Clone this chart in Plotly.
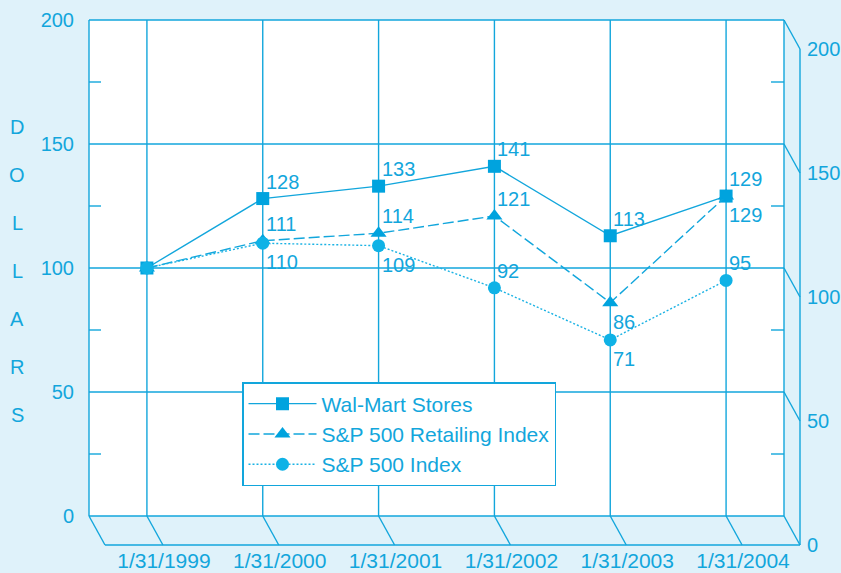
import plotly.graph_objects as go

# ---------------- data ----------------
dates = ["1/31/1999", "1/31/2000", "1/31/2001", "1/31/2002", "1/31/2003", "1/31/2004"]
walmart = [100, 128, 133, 141, 113, 129]
retailing = [100, 111, 114, 121, 86, 129]
sp500 = [100, 110, 109, 92, 71, 95]
series_names = ["Wal-Mart Stores", "S&P 500 Retailing Index", "S&P 500 Index"]
y_ticks = [0, 50, 100, 150, 200]
minor_ticks = [25, 75, 125, 175]
axis_letters = list("DOLLARS")

# label placement: +1 above the point, -1 below, 0 no label
walmart_pos = [0, 1, 1, 1, 1, 1]
retailing_pos = [0, 1, 1, 1, -1, -1]
sp500_pos = [0, -1, -1, 1, -1, 1]

# ---------------- style ----------------
CYAN = "#12a6dc"
BG = "#dff2fa"
FONT = "Liberation Sans, Arial, sans-serif"
W, H = 841, 573
ML, MR, MT, MB = 87, 39, 18, 26
PW, PH = W - ML - MR, H - MT - MB
PX_X = 695 / 6.0       # pixels per category
PX_Y = 496 / 200.0     # pixels per dollar
DX = 16 / PX_X         # depth offset (x, data units)
DY = 29 / PX_Y         # depth offset (y, data units)
n = len(dates)
xs = list(range(n))
x_lo = -0.5 - 2 / PX_X
x_hi = -0.5 + (W - MR - 89) / PX_X
y_hi = 200 + 2 / PX_Y
y_lo = -(H - MB - 516) / PX_Y

fig = go.Figure()

fig.add_trace(go.Scatter(
    x=xs, y=walmart, name=series_names[0], mode="lines+markers",
    line=dict(color=CYAN, width=1.4),
    marker=dict(symbol="square", size=13, color="#00a3de"),
    hoverinfo="skip"))
fig.add_trace(go.Scatter(
    x=xs, y=retailing, name=series_names[1], mode="lines+markers",
    line=dict(color=CYAN, width=1.4, dash="11px,4px"),
    marker=dict(symbol="triangle-up", size=14, color="#00a3de"),
    hoverinfo="skip"))
fig.add_trace(go.Scatter(
    x=xs, y=sp500, name=series_names[2], mode="lines+markers",
    line=dict(color="#1ab2e4", width=1.4, dash="2px,2px"),
    marker=dict(symbol="circle", size=13, color="#0fb2e6"),
    hoverinfo="skip"))
# dummy trace for the right-hand (front plane) axis
fig.add_trace(go.Scatter(x=[None], y=[None], yaxis="y2", showlegend=False,
                         hoverinfo="skip"))

shapes = []
line_style = dict(color=CYAN, width=1.4)
# back wall
shapes.append(dict(type="rect", xref="x", yref="y", x0=-0.5, x1=n - 0.5,
                   y0=0, y1=200, fillcolor="white", line=dict(width=0),
                   layer="below"))
# horizontal grid + right side diagonals
for v in y_ticks:
    shapes.append(dict(type="line", xref="x", yref="y", x0=-0.5, x1=n - 0.5,
                       y0=v, y1=v, line=line_style, layer="below"))
    shapes.append(dict(type="line", xref="x", yref="y", x0=n - 0.5, x1=n - 0.5 + DX,
                       y0=v, y1=v - DY, line=line_style, layer="below"))
# vertical grid + floor diagonals
for c in xs:
    shapes.append(dict(type="line", xref="x", yref="y", x0=c, x1=c,
                       y0=0, y1=200, line=line_style, layer="below"))
    shapes.append(dict(type="line", xref="x", yref="y", x0=c, x1=c + DX,
                       y0=0, y1=-DY, line=line_style, layer="below"))
# wall edges
for ex in (-0.5, n - 0.5):
    shapes.append(dict(type="line", xref="x", yref="y", x0=ex, x1=ex,
                       y0=0, y1=200, line=line_style, layer="below"))
# floor left diagonal and front edge
shapes.append(dict(type="line", xref="x", yref="y", x0=-0.5, x1=-0.5 + DX,
                   y0=0, y1=-DY, line=line_style, layer="below"))
shapes.append(dict(type="line", xref="x", yref="y", x0=-0.5 + DX, x1=n - 0.5 + DX,
                   y0=-DY, y1=-DY, line=line_style, layer="below"))
# right front vertical edge
shapes.append(dict(type="line", xref="x", yref="y", x0=n - 0.5 + DX, x1=n - 0.5 + DX,
                   y0=-DY, y1=200 - DY, line=line_style, layer="below"))
# minor ticks
for v in minor_ticks:
    shapes.append(dict(type="line", xref="x", yref="y", x0=-0.5, x1=-0.5 + 12 / PX_X,
                       y0=v, y1=v, line=line_style, layer="below"))
    shapes.append(dict(type="line", xref="x", yref="y", x0=n - 0.5 - 13 / PX_X, x1=n - 0.5,
                       y0=v, y1=v, line=line_style, layer="below"))

annotations = []
for vals, pos in ((walmart, walmart_pos), (retailing, retailing_pos), (sp500, sp500_pos)):
    for c, (v, p) in enumerate(zip(vals, pos)):
        if p == 0:
            continue
        annotations.append(dict(
            x=c, y=v, xref="x", yref="y", text=str(v), showarrow=False,
            xanchor="left", yanchor="middle", xshift=1,
            yshift=17 if p > 0 else -19,
            font=dict(family=FONT, size=20, color=CYAN)))
# vertical axis title letters
for i, ch in enumerate(axis_letters):
    annotations.append(dict(
        x=(17 - ML) / PW, y=(516 - 127) / PX_Y - i * 48 / PX_Y,
        xref="paper", yref="y", text=ch, showarrow=False,
        xanchor="center", yanchor="middle",
        font=dict(family=FONT, size=20, color=CYAN)))

fig.update_layout(
    template="none",
    width=W, height=H,
    margin=dict(l=ML, r=MR, t=MT, b=MB, pad=0),
    paper_bgcolor=BG, plot_bgcolor=BG,
    font=dict(family=FONT, size=20, color=CYAN),
    shapes=shapes, annotations=annotations,
    showlegend=True,
    legend=dict(
        x=(242 - ML) / PW, y=1 - (382 - MT) / PH,
        xanchor="left", yanchor="top",
        bgcolor="white", bordercolor=CYAN, borderwidth=1.5,
        font=dict(family=FONT, size=21, color=CYAN),
        itemwidth=68, tracegroupgap=0,
    ),
    xaxis=dict(
        range=[x_lo, x_hi], tickmode="array", tickvals=xs, ticktext=dates,
        ticklabelshift=17, ticklabelstandoff=-5,
        ticks="outside", ticklen=0, tickcolor="rgba(0,0,0,0)",
        showgrid=False, zeroline=False, showline=False, fixedrange=True,
        automargin=False,
        tickfont=dict(family=FONT, size=21, color=CYAN)),
    yaxis=dict(
        range=[y_lo, y_hi], tickmode="array", tickvals=y_ticks,
        ticks="outside", ticklen=8, tickcolor="rgba(0,0,0,0)",
        showgrid=False, zeroline=False, showline=False, fixedrange=True,
        automargin=False,
        tickfont=dict(family=FONT, size=20, color=CYAN)),
    yaxis2=dict(
        overlaying="y", side="right", anchor="x",
        range=[y_lo + DY, y_hi + DY], tickmode="array", tickvals=y_ticks,
        ticks="outside", ticklen=0, tickcolor="rgba(0,0,0,0)",
        showgrid=False, zeroline=False, showline=False, fixedrange=True,
        automargin=False,
        tickfont=dict(family=FONT, size=20, color=CYAN)),
)

fig.write_html("out.html", config={"displayModeBar": False},
               post_script="document.body.style.margin='0';document.body.style.padding='0';")
